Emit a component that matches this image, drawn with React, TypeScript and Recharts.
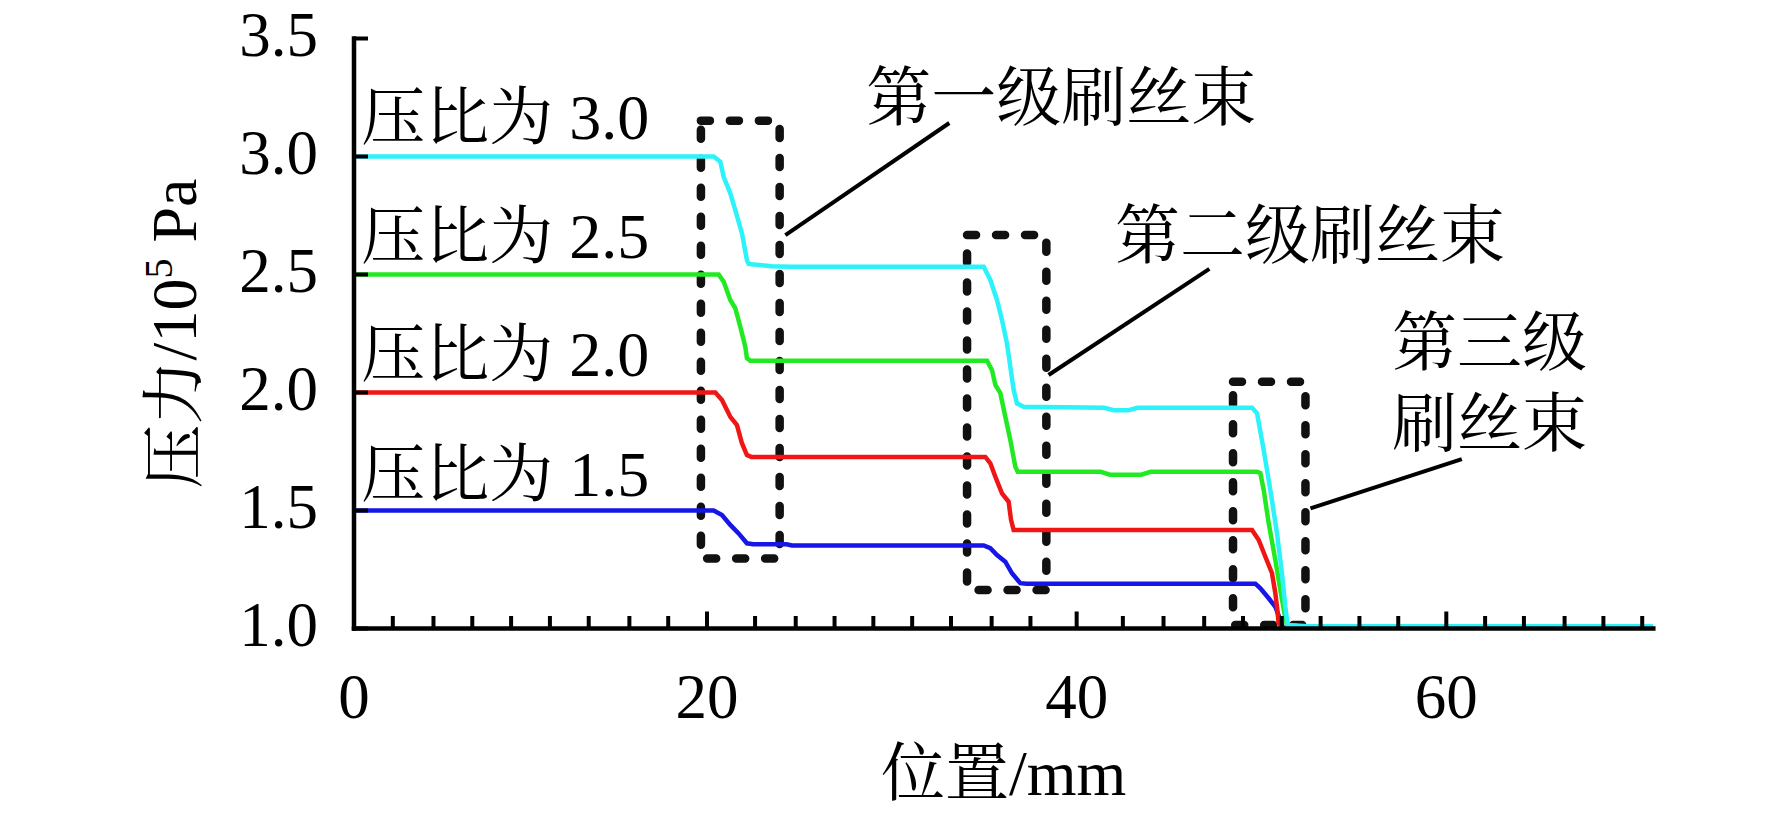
import React from 'react';
import {
  LineChart,
  Line,
  XAxis,
  YAxis,
  ReferenceArea,
  ReferenceLine,
  ReferenceDot,
} from 'recharts';

// ─────────────────────────────────────────────────────────────────────────────
// Data (x: 位置/mm, y: 压力/10^5 Pa)
// ─────────────────────────────────────────────────────────────────────────────

const ratio30: [number, number][] = [
  [0.9, 3.0], [20.36, 3.0], [20.72, 2.978], [20.9, 2.914], [21.26, 2.844],
  [21.53, 2.773], [21.89, 2.675], [22.16, 2.561], [22.25, 2.545], [23.5, 2.535],
  [24.5, 2.533], [34.97, 2.533], [35.33, 2.477], [35.69, 2.392], [35.96, 2.307],
  [36.23, 2.208], [36.41, 2.109], [36.59, 2.011], [36.77, 1.954], [37.13, 1.94],
  [41.5, 1.935], [42.0, 1.925], [42.8, 1.925], [43.3, 1.935], [49.49, 1.935],
  [49.76, 1.912], [50.12, 1.756], [50.48, 1.587], [50.84, 1.403], [51.11, 1.234],
  [51.29, 1.092], [51.42, 1.015], [52.5, 1.01], [71.2, 1.01],
];

const ratio25: [number, number][] = [
  [0.9, 2.5], [20.63, 2.5], [20.9, 2.47], [21.26, 2.392], [21.53, 2.357],
  [21.8, 2.279], [22.07, 2.194], [22.16, 2.145], [22.34, 2.135], [35.15, 2.135],
  [35.42, 2.095], [35.6, 2.032], [35.87, 1.997], [36.14, 1.897], [36.41, 1.799],
  [36.68, 1.686], [36.81, 1.664], [41.3, 1.664], [41.8, 1.652], [43.5, 1.652],
  [44.0, 1.664], [49.76, 1.664], [49.94, 1.658], [50.12, 1.587], [50.39, 1.446],
  [50.75, 1.29], [51.02, 1.163], [51.24, 1.064], [51.38, 1.015], [52.5, 1.005],
  [71.2, 1.005],
];

const ratio20: [number, number][] = [
  [0.9, 2.0], [20.45, 2.0], [20.81, 1.968], [21.26, 1.897], [21.62, 1.862],
  [21.89, 1.785], [22.16, 1.735], [22.4, 1.727], [35.06, 1.727], [35.33, 1.7],
  [35.6, 1.643], [35.96, 1.573], [36.32, 1.537], [36.45, 1.46], [36.59, 1.417],
  [49.49, 1.417], [49.85, 1.375], [50.21, 1.304], [50.57, 1.234], [50.75, 1.149],
  [50.84, 1.092], [50.93, 1.022], [51.3, 1.0], [71.2, 1.0],
];

const ratio15: [number, number][] = [
  [0.9, 1.5], [20.36, 1.5], [20.81, 1.481], [21.26, 1.439], [21.71, 1.403],
  [22.16, 1.361], [22.5, 1.357], [24.3, 1.357], [24.6, 1.352], [34.97, 1.352],
  [35.33, 1.34], [35.69, 1.311], [36.14, 1.283], [36.5, 1.234], [36.95, 1.192],
  [37.3, 1.19], [49.67, 1.19], [49.94, 1.17], [50.39, 1.128], [50.75, 1.092],
  [51.02, 1.036], [51.11, 1.008], [51.4, 1.0], [71.2, 1.0],
];

// drawn bottom to top so cyan sits on top
const seriesData = [ratio15, ratio20, ratio25, ratio30];
const seriesColors = ['#1616E8', '#F01616', '#22EA22', '#2CF2FA'];

const ratioLabels = ['压比为 1.5', '压比为 2.0', '压比为 2.5', '压比为 3.0'];
const ratioLabelX = [1.29, 1.29, 1.29, 1.29];
const ratioLabelY = [1.561, 2.07, 2.57, 3.074];

// axis
const xDomain: [number, number] = [0.9, 71.2];
const yDomain: [number, number] = [1.0, 3.5];
const xMajorTicks = [0.9, 20, 40, 60];
const xMajorLabels = ['0', '20', '40', '60'];
const xMinorTicks = [
  3.0, 5.2, 7.3, 9.4, 11.5, 13.6, 15.8, 17.9,
  22.6, 24.8, 26.9, 29.0, 31.1, 33.2, 35.4, 37.5,
  42.5, 44.7, 46.9, 49.0, 51.1, 53.2, 55.3, 57.4,
  62.1, 64.2, 66.4, 68.5, 70.6,
];
const yTicks = [1.0, 1.5, 2.0, 2.5, 3.0, 3.5];
const yTickLabels = ['1.0', '1.5', '2.0', '2.5', '3.0', '3.5'];
const yRightTicks = [1.5, 2.0, 2.5, 3.0];

// brush stages: dashed boxes [x1, x2, y1, y2]
const stageBoxes: [number, number, number, number][] = [
  [19.67, 23.93, 1.297, 3.152],
  [34.07, 38.36, 1.163, 2.667],
  [48.46, 52.38, 1.015, 2.046],
];
// leader lines [xFrom, yFrom, xTo, yTo]
const stageLeaders: [number, number, number, number][] = [
  [24.24, 2.667, 33.11, 3.142],
  [38.48, 2.074, 47.18, 2.524],
  [52.65, 1.509, 60.84, 1.718],
];
const stageTexts = ['第一级刷丝束', '第二级刷丝束', '第三级', '刷丝束'];
const stageTextX = [28.62, 42.07, 57.06, 57.06];
const stageTextY = [3.155, 2.57, 2.117, 1.773];

// ─────────────────────────────────────────────────────────────────────────────
// Layout
// ─────────────────────────────────────────────────────────────────────────────

const FONT =
  "'Liberation Serif', 'Times New Roman', 'Noto Serif CJK SC', 'Noto Sans CJK SC', serif";
const W = 1756;
const H = 802;
const INK = '#000';

const allXTicks = [...xMajorTicks, ...xMinorTicks].sort((a, b) => a - b);

function BottomTick(props: any) {
  const { x, y, payload } = props;
  const idx = xMajorTicks.indexOf(payload.value);
  const major = idx >= 0;
  return (
    <g>
      <line x1={x} x2={x} y1={y} y2={y - (major ? 17 : 12.5)} stroke={INK} strokeWidth={4} />
      {major && (
        <text x={x} y={y + 89.5} textAnchor="middle" fontSize={63} fontFamily={FONT} fill={INK}>
          {xMajorLabels[idx]}
        </text>
      )}
    </g>
  );
}

function TopTick(props: any) {
  const { x, y, payload } = props;
  const major = xMajorTicks.indexOf(payload.value) >= 0;
  return <line x1={x} x2={x} y1={y} y2={y + (major ? 16 : 12)} stroke={INK} strokeWidth={4} />;
}

function LeftTick(props: any) {
  const { x, y, payload } = props;
  const idx = yTicks.indexOf(payload.value);
  return (
    <g>
      <line x1={x} x2={x + 14} y1={y} y2={y} stroke={INK} strokeWidth={4} />
      <text x={x - 36} y={y + 17.5} textAnchor="end" fontSize={63} fontFamily={FONT} fill={INK}>
        {yTickLabels[idx]}
      </text>
    </g>
  );
}

function RightTick(props: any) {
  const { x, y } = props;
  return <line x1={x} x2={x - 16} y1={y} y2={y} stroke={INK} strokeWidth={4} />;
}

const textAt = (value: string, size: number) => (props: any) => {
  const vb = props.viewBox || {};
  return (
    <text x={vb.x} y={vb.y} fontSize={size} fontFamily={FONT} fill={INK}>
      {value}
    </text>
  );
};

const xTitle = (props: any) => {
  const vb = props.viewBox;
  return (
    <text x={vb.x + vb.width / 2} y={vb.y + 166.5} textAnchor="middle" fontSize={64} fontFamily={FONT} fill={INK}>
      位置/mm
    </text>
  );
};

const yTitle = (props: any) => {
  const vb = props.viewBox;
  const cx = vb.x + vb.width - 158;
  const cy = vb.y + vb.height / 2;
  return (
    <text
      x={cx}
      y={cy}
      textAnchor="middle"
      fontSize={64}
      fontFamily={FONT}
      fill={INK}
      transform={`rotate(-90 ${cx} ${cy})`}
    >
      压力/10
      <tspan dy={-24} fontSize={40}>5</tspan>
      <tspan dy={24}> Pa</tspan>
    </text>
  );
};

const axisLineStyle = { stroke: INK, strokeWidth: 4.5, strokeLinecap: 'square' as const };

export default function App() {
  return (
    <div style={{ width: W, height: H }}>
      <LineChart
        width={W}
        height={H}
        margin={{ top: 30.5, right: 110.7, bottom: 11.5, left: 246 }}
        style={{ fontFamily: FONT }}
      >
        <XAxis
          dataKey="x"
          type="number"
          domain={xDomain}
          allowDataOverflow
          ticks={allXTicks}
          interval={0}
          height={170}
          tickSize={0}
          tickMargin={0}
          tickLine={false}
          axisLine={axisLineStyle}
          tick={<BottomTick />}
          label={{ content: xTitle }}
        />
        <XAxis
          xAxisId="top"
          dataKey="x"
          orientation="top"
          type="number"
          domain={xDomain}
          allowDataOverflow
          ticks={allXTicks}
          interval={0}
          height={0}
          tickSize={0}
          tickMargin={0}
          tickLine={false}
          axisLine={axisLineStyle}
          tick={<TopTick />}
        />
        <YAxis
          type="number"
          domain={yDomain}
          allowDataOverflow
          ticks={yTicks}
          interval={0}
          width={100}
          tickSize={0}
          tickMargin={0}
          tickLine={false}
          axisLine={axisLineStyle}
          tick={<LeftTick />}
          label={{ content: yTitle }}
        />
        <YAxis
          yAxisId="right"
          orientation="right"
          type="number"
          domain={yDomain}
          allowDataOverflow
          ticks={yRightTicks}
          interval={0}
          width={0}
          tickSize={0}
          tickMargin={0}
          tickLine={false}
          axisLine={axisLineStyle}
          tick={<RightTick />}
        />

        {seriesData.map((pts, i) => (
          <Line
            key={ratioLabels[i]}
            data={pts.map(([x, y]) => ({ x, y }))}
            dataKey="y"
            name={ratioLabels[i]}
            type="linear"
            stroke={seriesColors[i]}
            strokeWidth={4.5}
            dot={false}
            activeDot={false}
            isAnimationActive={false}
          />
        ))}

        {stageBoxes.map(([x1, x2, y1, y2], i) => (
          <ReferenceArea
            key={`box-${i}`}
            x1={x1}
            x2={x2}
            y1={y1}
            y2={y2}
            fill="none"
            fillOpacity={0}
            stroke="#111"
            strokeWidth={8.5}
            strokeDasharray="9 20"
            strokeLinecap="round"
            ifOverflow="visible"
          />
        ))}

        {stageLeaders.map(([xa, ya, xb, yb], i) => (
          <ReferenceLine
            key={`lead-${i}`}
            segment={[{ x: xa, y: ya }, { x: xb, y: yb }]}
            stroke={INK}
            strokeWidth={4}
            ifOverflow="visible"
          />
        ))}

        {ratioLabels.map((t, i) => (
          <ReferenceDot
            key={`rl-${i}`}
            x={ratioLabelX[i]}
            y={ratioLabelY[i]}
            r={0}
            fill="none"
            stroke="none"
            ifOverflow="visible"
            label={textAt(t, 64)}
          />
        ))}

        {stageTexts.map((t, i) => (
          <ReferenceDot
            key={`st-${i}`}
            x={stageTextX[i]}
            y={stageTextY[i]}
            r={0}
            fill="none"
            stroke="none"
            ifOverflow="visible"
            label={textAt(t, 65)}
          />
        ))}
      </LineChart>
    </div>
  );
}
